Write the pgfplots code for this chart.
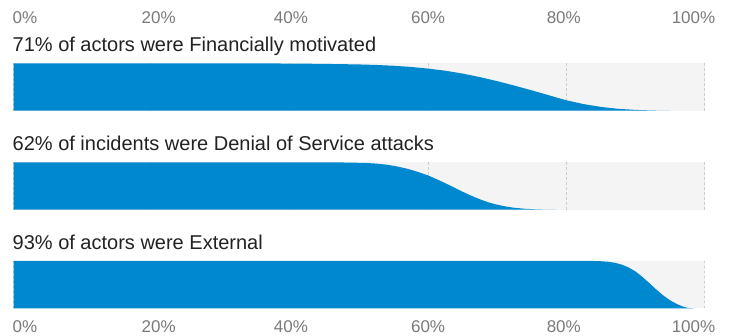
\documentclass[border=0pt]{standalone}
\usepackage{fontspec}
\setmainfont{Liberation Sans}
\usepackage{pgfplots}
\pgfplotsset{compat=1.18}
\definecolor{vblue}{HTML}{0088CE}
\definecolor{bandgray}{HTML}{F4F4F4}
\definecolor{gridgray}{HTML}{CCCCCC}
\definecolor{ticklab}{HTML}{7A7A7A}
\definecolor{titlecol}{HTML}{222222}
\newcommand{\tickfont}{\fontsize{17bp}{20bp}\selectfont}
\newcommand{\titlefont}{\fontsize{20bp}{23bp}\selectfont}
\pgfplotsset{
  panel/.style={
    scale only axis, width=691bp, height=47.3bp,
    xmin=0, xmax=100, ymin=0, ymax=1,
    axis line style={draw=none},
    axis background/.style={fill=bandgray},
    ytick=\empty,
    xtick={0,20,40,60,80,100},
    major tick length=0pt,
    xmajorgrids,
    grid style={gridgray, dash pattern=on 2.5bp off 2.5bp, line width=0.9bp},
    title style={at={(0,1)}, anchor=base west, yshift=6bp, xshift=-1bp, inner sep=0pt, font=\titlefont, text=titlecol},
    xticklabel style={font=\tickfont, text=ticklab, anchor=base, inner sep=0pt},
    clip=true,
  },
  labs/.style={
    xticklabels={\makebox[0pt]{\hspace{23bp}0\%},\makebox[0pt]{\hspace{14bp}20\%},\makebox[0pt]{\hspace{2bp}40\%},60\%,\makebox[0pt]{80\%\hspace{5bp}},\makebox[0pt]{100\%\hspace{22bp}}},
  },
  nolabs/.style={xticklabels={,,,,,}},
}
\begin{document}
\begin{tikzpicture}
\useasboundingbox (0,0) rectangle (733bp,336bp);
% Panel 1
\begin{axis}[panel, labs, at={(13.5bp,225.3bp)}, anchor=south west,
  xticklabel pos=upper, xticklabel style={yshift=39.9bp},
  title={71\% of actors were Financially motivated}]
\addplot[draw=none, fill=vblue] coordinates {
(0,1) (35,1) (40,0.997) (45,0.99) (50,0.978) (52.5,0.967) (55,0.95) (57.5,0.925) (60,0.89) (62.5,0.845) (65,0.785) (67.5,0.71) (70,0.625) (72.5,0.53) (75,0.43) (77.5,0.325) (80,0.22) (82.5,0.14) (85,0.08) (87.5,0.04) (90,0.017) (92.5,0.005) (95,0)
} \closedcycle;
\end{axis}
% Panel 2
\begin{axis}[panel, nolabs, at={(13.5bp,126.3bp)}, anchor=south west,
  title={62\% of incidents were Denial of Service attacks}]
\addplot[draw=none, fill=vblue] coordinates {
(0,1) (47,1) (49,0.995) (51,0.988) (52.5,0.975) (54,0.952) (55.5,0.915) (57,0.865) (58.5,0.80) (60,0.725) (61.25,0.645) (62.5,0.56) (63.75,0.47) (65,0.38) (66.25,0.295) (67.5,0.22) (68.75,0.155) (70,0.105) (71.25,0.068) (72.5,0.04) (74,0.02) (75.5,0.008) (77,0.002) (78.5,0)
} \closedcycle;
\end{axis}
% Panel 3
\begin{axis}[panel, labs, at={(13.5bp,27.7bp)}, anchor=south west,
  xticklabel pos=lower, xticklabel style={yshift=-24.5bp},
  title={93\% of actors were External}]
\addplot[draw=none, fill=vblue] coordinates {
(0,1) (84,1) (85,0.995) (86,0.985) (87,0.963) (88,0.925) (89,0.865) (90,0.78) (91,0.665) (92,0.535) (93,0.40) (94,0.275) (95,0.17) (96,0.09) (97,0.03) (97.5,0.012) (98,0.003) (98.5,0)
} \closedcycle;
\end{axis}
\end{tikzpicture}
\end{document}
